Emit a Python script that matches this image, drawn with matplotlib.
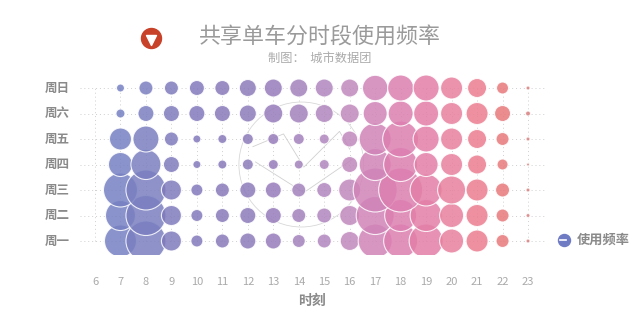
import numpy as np
import matplotlib
matplotlib.use("Agg")
import matplotlib.pyplot as plt
from matplotlib.patches import Circle

plt.rcParams['font.family'] = ['Noto Sans CJK SC', 'DejaVu Sans']

hours = list(range(6, 24))
days = ["周一", "周二", "周三", "周四", "周五", "周六", "周日"]

# bubble radius (px), hours 7..23 (hour 6 is empty)
mon = [16, 20, 10, 6, 7, 8, 8, 6.5, 7, 9.5, 17, 17, 17, 12, 11, 6.5, 2]
tue = [15, 20, 10, 6, 7, 8, 8, 7, 7.5, 10, 19, 16, 16, 12, 11, 6.5, 2]
wed = [17, 20, 10, 6, 7, 8, 8, 7, 7.5, 11, 22, 22, 16, 14, 11, 7, 2]
thu = [12, 15, 8, 4, 4.5, 5.5, 5, 4.5, 5, 8, 16, 17, 12, 11, 9.5, 5.5, 1.5]
fri = [11, 13, 7, 4, 4.5, 5.5, 5.5, 5.5, 5, 8, 16, 18, 13, 11, 9.5, 6.5, 2]
sat = [4.5, 8, 8, 8, 8, 8.5, 9.5, 9.5, 9, 9.5, 12, 12.5, 12.5, 11, 11, 8, 2.5]
sun = [4, 7, 7, 7.5, 7.5, 8.5, 9, 9, 9, 9, 12.7, 13, 13, 11, 9.5, 6, 2]
rows = [mon, tue, wed, thu, fri, sat, sun]

hour_colors = ["#7680c2", "#7a7fc0", "#7f7abc", "#8379bb", "#8779ba", "#8c7aba",
               "#977cba", "#a282bc", "#b086bd", "#c188bd", "#d184b8", "#dc7fb0",
               "#e37fa8", "#e87f9e", "#eb7d90", "#e8797c", "#d98080"]

fig = plt.figure(figsize=(6.4, 3.27), dpi=100)
ax = fig.add_axes([80 / 640, 72 / 327, 465 / 640, 180 / 327])
ax.set_xlim(5.411, 23.667)
ax.set_ylim(-0.549, 6.51)
ax.axis("off")

grid_c = "#cfcfcf"
for i in range(len(days)):
    ax.plot([5.411, 23.667], [i, i], ls=(0, (1, 3)), lw=0.7, color=grid_c, zorder=1)
for h in hours:
    ax.plot([h, h], [0, 6], ls=(0, (1, 3)), lw=0.7, color=grid_c, zorder=1)

# faint watermark
ax.add_patch(Circle((14.1, 3.0), 2.45, fill=False, lw=0.6, color="#d8d8d8", zorder=1))
ax.plot([12.2, 13.4, 14.2, 15.6, 16.0], [3.7, 4.2, 2.9, 4.3, 3.6], lw=0.6, color="#d0d0d0", zorder=1)
ax.plot([12.3, 14.2, 16.1], [3.1, 1.9, 3.2], lw=0.6, color="#d0d0d0", zorder=1)

k = 0.72 * 2
for i, r in enumerate(rows):
    x = hours[1:]
    s = [(v * k) ** 2 for v in r]
    ax.scatter(x, [i] * len(x), s=s, c=hour_colors, alpha=0.85,
               edgecolors="white", linewidths=0.8, zorder=3)

gray = "#8a8a8a"
for i, d in enumerate(days):
    ax.text(5.411 - 0.4, i, d, ha="right", va="center", fontsize=9,
            fontweight="bold", color="#8a8a8a")
for h in hours:
    ax.text(h, -1.6, str(h), ha="center", va="center", fontsize=8, color="#aaaaaa")
ax.text(14.5, -2.35, "时刻", ha="center", va="center", fontsize=10,
        fontweight="bold", color=gray)

# legend
ax.scatter([24.4], [0.05], s=(6 * k) ** 2, c="#6f7cc4", zorder=3, clip_on=False)
ax.plot([24.27, 24.5], [0.05, 0.05], color="white", lw=1.2, zorder=4, clip_on=False)
ax.text(24.9, 0.05, "使用频率", ha="left", va="center", fontsize=9.5,
        fontweight="bold", color=gray)

# header logo
ax.scatter([8.2], [7.96], s=(10 * k) ** 2, c="#c8422a", zorder=3, clip_on=False)
ax.scatter([8.2], [7.9], s=(5 * k) ** 2, c="white", marker="v", zorder=4, clip_on=False)
fig.text(320 / 640, 1 - 38 / 327, "共享单车分时段使用频率", ha="center", va="center",
         fontsize=15.8, color="#9a9a9a")
fig.text(320 / 640, 1 - 58 / 327, "制图：  城市数据团", ha="center", va="center",
         fontsize=8.8, color="#aaaaaa")

fig.savefig("out.png", dpi=100, facecolor="white")
